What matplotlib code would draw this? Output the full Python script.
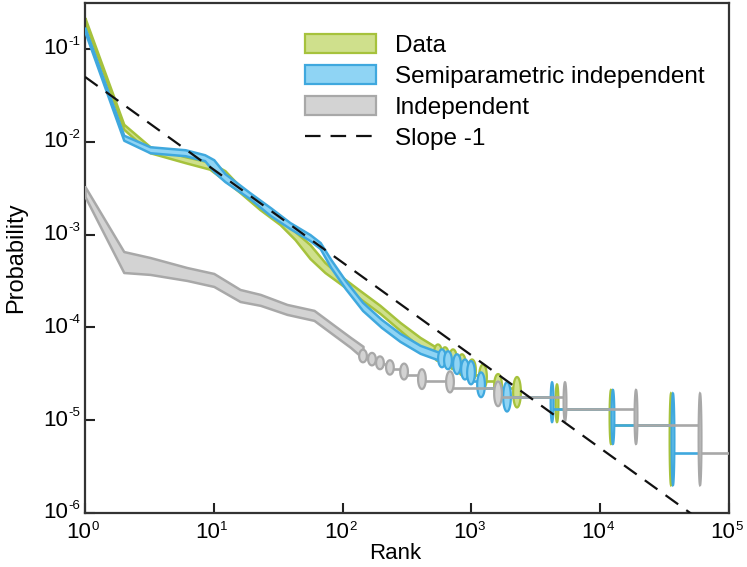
import numpy as np
import matplotlib
matplotlib.use("Agg")
import matplotlib.pyplot as plt
from matplotlib.patches import Patch, Polygon
from matplotlib.lines import Line2D

plt.rcParams['font.family'] = ['Liberation Sans', 'DejaVu Sans']

# ---------------- data ----------------
N_SAMPLES = 226000  # total number of samples (probability = count / N)

# Data (green): continuous band part
data_rank = [1, 2, 3.2, 6, 9.3, 12.2, 16, 22.8, 32.7, 42.7, 55.8, 72.9, 95.4, 136, 195, 279, 399, 550]
data_hi = [0.215, 0.01542, 0.00883, 0.00690, 0.00602, 0.00488, 0.00328, 0.00226, 0.00149,
           0.001076, 0.000780, 0.000500, 0.000362, 0.000250, 0.0001726, 0.0001132, 7.80e-5, 5.94e-5]
data_lo = [0.195, 0.01361, 0.00761, 0.00595, 0.00506, 0.00381, 0.00283, 0.00186, 0.00128,
           0.000883, 0.000552, 0.000390, 0.000297, 0.000205, 0.0001416, 9.29e-5, 6.09e-5, 4.65e-5]
# Data: discrete tail (rank of count transitions, CI in counts, count after transition)
data_tr_rank = [550, 624, 720, 845, 1011, 1230, 1610, 2260, 4620, 12130, 35480]
data_tr_hi = [14.8, 13.8, 13.1, 11.6, 10.2, 9.0, 7.1, 6.6, 5.5, 4.8, 4.4]
data_tr_lo = [9.8, 8.8, 8.0, 6.9, 5.95, 4.9, 4.0, 3.1, 2.15, 1.25, 0.45]
data_levels = [11, 10, 9, 8, 7, 6, 5, 4, 3, 2]
data_end_rank = 35480

# Semiparametric independent (blue)
semi_rank = [1, 2, 3.2, 6, 8.5, 10, 12.2, 19, 27.5, 39, 55.8, 67, 81, 105, 143, 200, 279, 400, 591]
semi_hi = [0.168, 0.01175, 0.00883, 0.00820, 0.00724, 0.00640, 0.00453, 0.00283, 0.00195, 0.001346,
           0.001, 0.000820, 0.000538, 0.000320, 0.000186, 0.0001219, 8.61e-5, 6.40e-5, 5.25e-5]
semi_lo = [0.152, 0.01037, 0.00761, 0.00707, 0.00625, 0.00476, 0.00372, 0.00244, 0.00160, 0.001161,
           0.000861, 0.000706, 0.000441, 0.000262, 0.000152, 0.0001, 7.06e-5, 5.25e-5, 4.31e-5]
semi_tr_rank = [591, 658, 773, 892, 993, 1188, 1890, 4230, 12560, 36740]
semi_tr_hi = [13.1, 12.5, 11.6, 10.2, 9.8, 7.4, 5.8, 5.8, 4.8, 4.4]
semi_tr_lo = [8.4, 8.0, 7.1, 6.2, 5.5, 4.0, 2.8, 2.15, 1.25, 0.45]
semi_levels = [10, 9, 8, 7, 6, 5, 4, 3, 2, 1]
semi_end_rank = 59600

# Independent (gray)
ind_rank = [1, 2, 3.2, 6.2, 10, 16, 23, 37, 60, 84, 115, 144]
ind_hi = [0.00328, 0.000656, 0.000566, 0.000441, 0.000381, 0.000256, 0.0002264, 0.0001766,
          0.0001524, 0.0001077, 7.80e-5, 6.25e-5]
ind_lo = [0.002564, 0.000390, 0.000372, 0.000320, 0.000276, 0.000190, 0.0001726, 0.0001380,
          0.0001189, 8.41e-5, 6.09e-5, 4.65e-5]
ind_tr_rank = [144, 169, 195, 233, 300, 413, 682, 1610, 5330, 18970, 59600]
ind_tr_hi = [13.0, 12.0, 11.0, 10.0, 9.2, 8.0, 7.6, 5.9, 5.8, 4.8, 4.4]
ind_tr_lo = [9.5, 8.8, 8.0, 7.0, 6.2, 4.9, 4.5, 3.2, 2.2, 1.25, 0.45]
ind_levels = [11, 10, 9, 8, 7, 6, 5, 4, 3, 2, 1]
ind_end_rank = 200000

# Slope -1 reference line
slope_rank = [1, 1e5]
slope_p = [0.05, 5e-7]

x_exponents = [0, 1, 2, 3, 4, 5]
y_exponents = [-6, -5, -4, -3, -2, -1]

labels = ["Data", "Semiparametric independent", "Independent", "Slope -1"]

# ---------------- styling ----------------
colors = {
    "data": ("#cfe08c", "#a6c23c"),
    "semi": ("#8fd4f4", "#3fa8de"),
    "ind": ("#d3d3d3", "#a8a8a8"),
}

fig = plt.figure(figsize=(7.47, 5.67), dpi=100)
ax = fig.add_axes([85 / 747, 54 / 567, 644 / 747, 510 / 567])
ax.set_xscale("log")
ax.set_yscale("log")


def draw_series(rank, lo, hi, tr_rank, tr_hi, tr_lo, levels, end_rank, face, edge, z):
    ax.fill_between(rank, lo, hi, facecolor=face, edgecolor=edge, linewidth=1.8, zorder=z)
    # horizontal steps between transitions
    for i, lev in enumerate(levels):
        x0 = tr_rank[i]
        x1 = tr_rank[i + 1] if i + 1 < len(tr_rank) else end_rank
        p = lev / N_SAMPLES
        ax.plot([x0, x1], [p, p], color=edge, linewidth=1.9, solid_capstyle="butt", zorder=z)
    # lens-shaped confidence intervals at transitions
    t = np.linspace(0, 2 * np.pi, 60)
    for r, h, l in zip(tr_rank, tr_hi, tr_lo):
        lh = np.log10(h / N_SAMPLES)
        ll = np.log10(l / N_SAMPLES)
        a = 0.03 if h / l < 2.2 else 0.011
        lx = np.log10(r) + a * np.cos(t)
        ly = (lh + ll) / 2 + (lh - ll) / 2 * np.sin(t)
        poly = Polygon(np.column_stack([10 ** lx, 10 ** ly]), closed=True,
                       facecolor=face, edgecolor=edge, linewidth=1.6, zorder=z + 0.1)
        ax.add_patch(poly)


draw_series(data_rank, data_lo, data_hi, data_tr_rank, data_tr_hi, data_tr_lo,
            data_levels, data_end_rank, *colors["data"], z=2)
draw_series(semi_rank, semi_lo, semi_hi, semi_tr_rank, semi_tr_hi, semi_tr_lo,
            semi_levels, semi_end_rank, *colors["semi"], z=3)
draw_series(ind_rank, ind_lo, ind_hi, ind_tr_rank, ind_tr_hi, ind_tr_lo,
            ind_levels, ind_end_rank, *colors["ind"], z=4)

ax.plot(slope_rank, slope_p, color="#111111", linewidth=1.6, dashes=(7, 4.5), zorder=6)

ax.set_xlim(1, 1e5)
ax.set_ylim(1e-6, 0.3125)
ax.set_xticks([10.0 ** e for e in x_exponents])
ax.set_yticks([10.0 ** e for e in y_exponents])
ax.set_xticklabels([])
ax.set_yticklabels([])
ax.minorticks_off()
ax.tick_params(direction="in", length=7, width=1.5, color="#222222")
for s in ax.spines.values():
    s.set_linewidth(1.6)
    s.set_color("#333333")

# tick labels as "10" with a small superscript exponent
BASE_FS, SUP_FS = 16, 9.5
for e in y_exponents:
    ax.annotate("10", xy=(0, 10.0 ** e), xycoords=ax.get_yaxis_transform(),
                xytext=(-12, 0), textcoords="offset points", ha="right", va="center",
                fontsize=BASE_FS, annotation_clip=False)
    ax.annotate(f"-{-e}", xy=(0, 10.0 ** e), xycoords=ax.get_yaxis_transform(),
                xytext=(-12, 5), textcoords="offset points", ha="left", va="center",
                fontsize=SUP_FS, annotation_clip=False)
for e in x_exponents:
    ax.annotate("10", xy=(10.0 ** e, 0), xycoords=ax.get_xaxis_transform(),
                xytext=(4.5, -14), textcoords="offset points", ha="right", va="center",
                fontsize=BASE_FS, annotation_clip=False)
    ax.annotate(f"{e}", xy=(10.0 ** e, 0), xycoords=ax.get_xaxis_transform(),
                xytext=(4.5, -10), textcoords="offset points", ha="left", va="center",
                fontsize=SUP_FS, annotation_clip=False)

ax.set_xlabel("Rank", fontsize=16)
ax.xaxis.set_label_coords(0.481, -0.058)
ax.set_ylabel("Probability", fontsize=17)
ax.yaxis.set_label_coords(-0.09, 0.5)

handles = [
    Patch(facecolor=colors["data"][0], edgecolor=colors["data"][1], linewidth=1.6),
    Patch(facecolor=colors["semi"][0], edgecolor=colors["semi"][1], linewidth=1.6),
    Patch(facecolor=colors["ind"][0], edgecolor=colors["ind"][1], linewidth=1.6),
    Line2D([0], [0], color="#111111", linewidth=1.6, dashes=(7, 4.5)),
]
ax.legend(handles, labels, loc="upper left", bbox_to_anchor=(0.308, 0.983), frameon=False,
          fontsize=17.5, handlelength=2.9, handleheight=0.83, handletextpad=0.8,
          labelspacing=0.34, borderpad=0.4)

fig.savefig("out.png", dpi=100)
